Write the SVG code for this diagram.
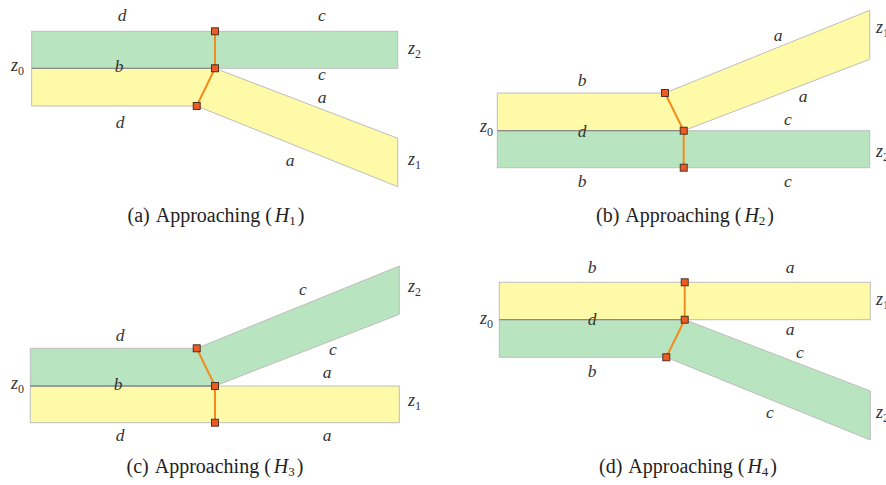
<svg xmlns="http://www.w3.org/2000/svg" width="886" height="485" viewBox="0 0 886 485">
<style>
.g{fill:#b8e4c0;stroke:#bdbdbd;stroke-width:1}
.y{fill:#fffaa8;stroke:#bdbdbd;stroke-width:1}
.sh{stroke:#8a8a8a;stroke-width:1.3;fill:none}
.o{stroke:#f28c1c;stroke-width:2;fill:none}
.sq{fill:#ee5a24;stroke:#3a2a20;stroke-width:0.9}
.l{font-family:"Liberation Serif",serif;font-style:italic;font-size:17.5px;fill:#333;text-anchor:middle}
.z{font-family:"Liberation Serif",serif;font-style:italic;font-size:18px;fill:#333}
.s{font-style:normal;font-size:12px}
.cap{font-family:"Liberation Serif",serif;font-size:20px;fill:#222;text-anchor:middle}
</style>
<defs>
<rect id="sq" x="-3.5" y="-3.5" width="7" height="7" class="sq"/>
</defs>

<g id="panel-a">
<rect class="g" x="31.7" y="31.3" width="366" height="37"/>
<polygon class="y" points="31.7,68.3 215,68.3 397.7,138.3 397.7,186.7 196.7,106 31.7,106"/>
<line class="sh" x1="31.7" y1="68.3" x2="215" y2="68.3"/>
<text class="l" x="122" y="21">d</text>
<text class="l" x="322" y="21">c</text>
<text class="l" x="119" y="72">b</text>
<text class="l" x="322" y="80">c</text>
<text class="l" x="322" y="103">a</text>
<text class="l" x="120" y="128">d</text>
<text class="l" x="290" y="166">a</text>
<text class="z" x="408" y="54">z<tspan class="s" dy="4">2</tspan></text>
<text class="z" x="408" y="165">z<tspan class="s" dy="4">1</tspan></text>
<text class="z" x="11" y="71">z<tspan class="s" dy="4">0</tspan></text>
<text class="cap" x="216" y="222">(a)<tspan dx="6">Approaching</tspan> (<tspan dx="3" font-style="italic">H</tspan><tspan font-size="13" dy="3">1</tspan><tspan dx="2" dy="-3">)</tspan></text>
</g>

<g id="panel-b">
<rect class="g" x="497.3" y="130.7" width="372.4" height="37"/>
<polygon class="y" points="497.3,93 665,93 869.7,10.3 869.7,59.3 683.7,130.7 497.3,130.7"/>
<line class="sh" x1="497.3" y1="130.7" x2="683.7" y2="130.7"/>
<text class="l" x="778" y="41">a</text>
<text class="l" x="582" y="86">b</text>
<text class="l" x="803" y="102">a</text>
<text class="l" x="788" y="125">c</text>
<text class="l" x="582" y="137">d</text>
<text class="l" x="582" y="187">b</text>
<text class="l" x="788" y="187">c</text>
<text class="z" x="480" y="132">z<tspan class="s" dy="4">0</tspan></text>
<text class="z" x="876" y="33">z<tspan class="s" dy="4">1</tspan></text>
<text class="z" x="876" y="157">z<tspan class="s" dy="4">2</tspan></text>
<text class="cap" x="685" y="222">(b)<tspan dx="6">Approaching</tspan> (<tspan dx="3" font-style="italic">H</tspan><tspan font-size="13" dy="3">2</tspan><tspan dx="2" dy="-3">)</tspan></text>
</g>

<g id="panel-c">
<rect class="y" x="30.3" y="386" width="369" height="36.7"/>
<polygon class="g" points="30.3,348.3 196.7,348.3 399.3,266 399.3,314.3 215,386 30.3,386"/>
<line class="sh" x1="30.3" y1="386" x2="215" y2="386"/>
<text class="l" x="303" y="295">c</text>
<text class="l" x="120" y="341">d</text>
<text class="l" x="333" y="355">c</text>
<text class="l" x="327" y="378">a</text>
<text class="l" x="118" y="390">b</text>
<text class="l" x="120" y="441">d</text>
<text class="l" x="327" y="441">a</text>
<text class="z" x="408" y="292">z<tspan class="s" dy="4">2</tspan></text>
<text class="z" x="408" y="406">z<tspan class="s" dy="4">1</tspan></text>
<text class="z" x="11" y="389">z<tspan class="s" dy="4">0</tspan></text>
<text class="cap" x="215" y="473">(c)<tspan dx="6">Approaching</tspan> (<tspan dx="3" font-style="italic">H</tspan><tspan font-size="13" dy="3">3</tspan><tspan dx="2" dy="-3">)</tspan></text>
</g>

<g id="panel-d">
<rect class="y" x="499.3" y="282.3" width="371" height="37.4"/>
<polygon class="g" points="499.3,319.7 684.7,319.7 870.3,391 870.3,440 666.3,357.3 499.3,357.3"/>
<line class="sh" x1="499.3" y1="319.7" x2="684.7" y2="319.7"/>
<text class="l" x="592" y="273">b</text>
<text class="l" x="790" y="273">a</text>
<text class="l" x="592" y="325">d</text>
<text class="l" x="790" y="335">a</text>
<text class="l" x="800" y="358">c</text>
<text class="l" x="592" y="377">b</text>
<text class="l" x="770" y="418">c</text>
<text class="z" x="480" y="324">z<tspan class="s" dy="4">0</tspan></text>
<text class="z" x="876" y="305">z<tspan class="s" dy="4">1</tspan></text>
<text class="z" x="876" y="418">z<tspan class="s" dy="4">2</tspan></text>
<text class="cap" x="688" y="473">(d)<tspan dx="6">Approaching</tspan> (<tspan dx="3" font-style="italic">H</tspan><tspan font-size="13" dy="3">4</tspan><tspan dx="2" dy="-3">)</tspan></text>
</g>

<g id="connectors">
<polyline class="o" points="215,31.3 215,68.3 196.7,106"/>
<polyline class="o" points="665,93 683.7,130.7 683.7,167.7"/>
<polyline class="o" points="196.7,348.3 215,386 215,422.7"/>
<polyline class="o" points="684.7,282.3 684.7,319.7 666.3,357.3"/>
<use href="#sq" x="215" y="31.3"/><use href="#sq" x="215" y="68.3"/><use href="#sq" x="196.7" y="106"/>
<use href="#sq" x="665" y="93"/><use href="#sq" x="683.7" y="130.7"/><use href="#sq" x="683.7" y="167.7"/>
<use href="#sq" x="196.7" y="348.3"/><use href="#sq" x="215" y="386"/><use href="#sq" x="215" y="422.7"/>
<use href="#sq" x="684.7" y="282.3"/><use href="#sq" x="684.7" y="319.7"/><use href="#sq" x="666.3" y="357.3"/>
</g>
</svg>
